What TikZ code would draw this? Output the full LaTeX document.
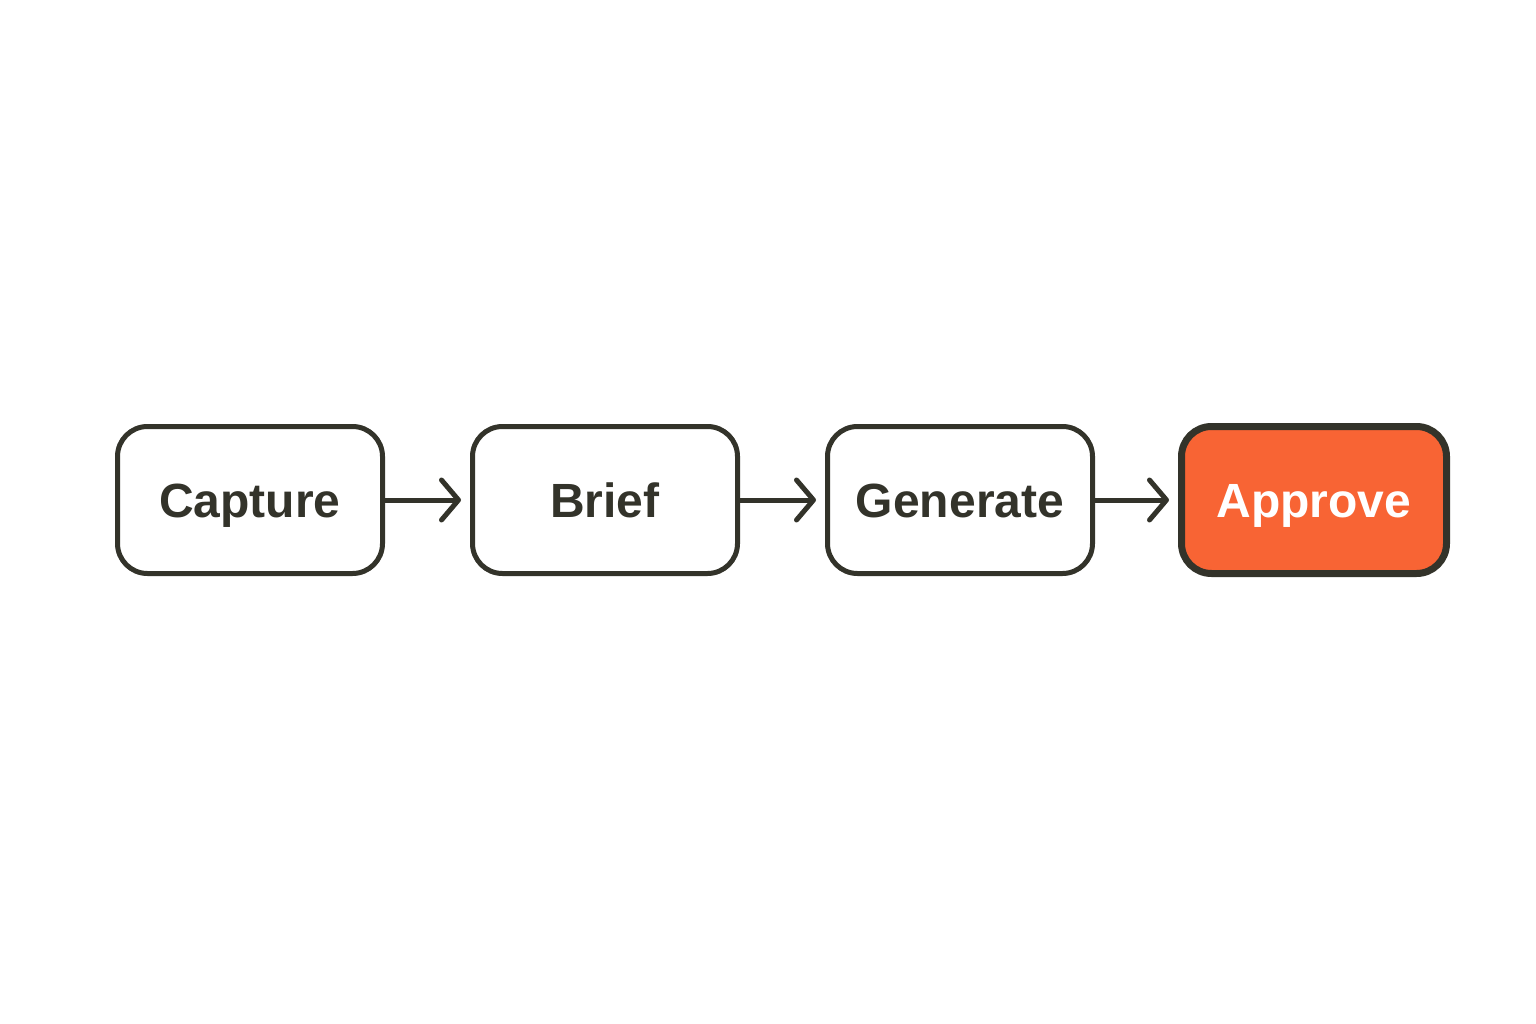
\documentclass[tikz,border=0pt]{standalone}
\usepackage{fontspec}
\setmainfont{Liberation Sans}
\usetikzlibrary{arrows.meta}
\definecolor{ink}{HTML}{33332A}
\definecolor{orng}{HTML}{F86434}
\begin{document}
\begin{tikzpicture}[x=1pt,y=-1pt,
  stage/.style={draw=ink, line width=5pt, rounded corners=30pt, minimum width=265pt, minimum height=147pt, fill=white, text=ink, font=\fontsize{48}{56}\selectfont\bfseries, inner sep=0pt, text height=34pt, text depth=0pt},
  hot/.style={stage, fill=orng, text=white, line width=7pt},
  flow/.style={draw=ink, line width=5pt, -{Straight Barb[length=17pt,width=40pt,line cap=round,line join=round]}, shorten >=9pt}]
\useasboundingbox (0,0) rectangle (1536,1024);
\fill[white] (0,0) rectangle (1536,1024);
\node[stage] (cap) at (250,500) {Capture};
\node[stage] (bri) at (605,500) {Brief};
\node[stage] (gen) at (960,500) {Generate};
\node[hot] (app) at (1314,500) {Approve};
\draw[flow] (cap) -- (bri);
\draw[flow] (bri) -- (gen);
\draw[flow] (gen) -- (app);
\end{tikzpicture}
\end{document}
